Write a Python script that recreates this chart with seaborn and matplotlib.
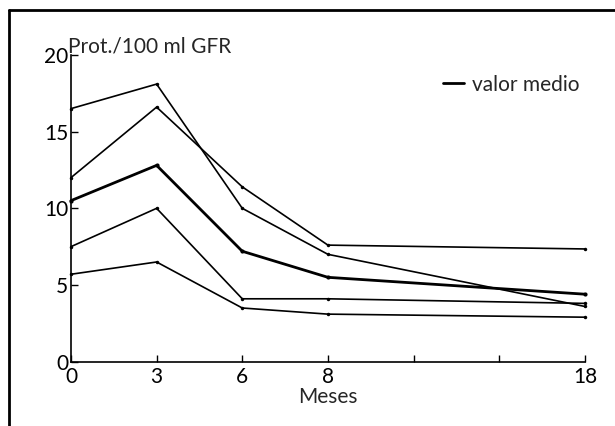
import matplotlib
matplotlib.use('Agg')
import matplotlib.pyplot as plt
from matplotlib.lines import Line2D
import seaborn as sns

# months and where they sit on the (uneven) axis
meses = ['0', '3', '6', '8', '18']
pos = [0, 1, 2, 3, 6]

# protein per 100 ml GFR, one list per curve
serie_a = [16.5, 18.1, 10.0, 7.0, 3.6]
serie_b = [12.0, 16.6, 11.4, 7.6, 7.35]
valor_medio = [10.5, 12.8, 7.2, 5.5, 4.4]
serie_d = [7.5, 10.0, 4.1, 4.1, 3.8]
serie_e = [5.7, 6.5, 3.5, 3.1, 2.9]

sns.set_style('ticks')
plt.rcParams['font.family'] = ['Lato', 'DejaVu Sans']

fig = plt.figure(figsize=(6.15, 4.26), dpi=100)
ax = fig.add_axes([0.1154, 0.151, 0.8356, 0.72])

for s in [serie_a, serie_b, serie_d, serie_e]:
    sns.lineplot(x=pos, y=s, ax=ax, color='black', lw=1.2, marker='o',
                 markersize=2.5, markeredgewidth=0, clip_on=False)
sns.lineplot(x=pos, y=valor_medio, ax=ax, color='black', lw=2.0, marker='o',
             markersize=3, markeredgewidth=0, clip_on=False)

ax.set_xlim(0, 6)
ax.set_ylim(0, 20)
ax.set_xticks([0, 1, 2, 3, 4, 5, 6])
ax.set_xticklabels(['0', '3', '6', '8', '', '', '18'])
ax.set_yticks([0, 5, 10, 15, 20])
ax.tick_params(direction='in', length=5, width=1, labelsize=15, colors='black', pad=2)
ax.tick_params(axis='x', pad=4)
sns.despine(ax=ax)
for sp in ['left', 'bottom']:
    ax.spines[sp].set_linewidth(1.2)
    ax.spines[sp].set_color('black')

ax.set_xlabel('Meses', fontsize=15, labelpad=0)
ax.set_ylabel('')
ax.text(-0.006, 0.995, 'Prot./100 ml GFR', transform=ax.transAxes,
        ha='left', va='bottom', fontsize=15)

mean_handle = Line2D([], [], color='black', lw=2.0)
ax.legend([mean_handle], ['valor medio'], loc='upper right',
          bbox_to_anchor=(1.027, 0.997), frameon=False,
          handlelength=1.0, handletextpad=0.4, fontsize=15)

# scanned page border (top and left only)
fig.add_artist(Line2D([9/615, 1.0], [1-10/426, 1-10/426], color='black', lw=2))
fig.add_artist(Line2D([9/615, 9/615], [0, 1-10/426], color='black', lw=2))

fig.savefig('out.png', dpi=100, facecolor='white')
